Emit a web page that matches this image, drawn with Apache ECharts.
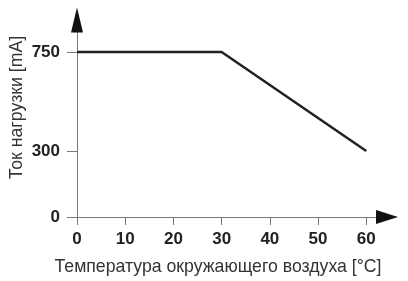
<!DOCTYPE html>
<html><head><meta charset="utf-8">
<script src="https://cdn.jsdelivr.net/npm/echarts@6/dist/echarts.min.js"></script>
<style>html,body{margin:0;padding:0;background:#fff}#c{width:408px;height:281px}</style>
</head><body><div id="c"></div>
<script>
const temps = [0, 30, 60];
const currents = [750, 750, 300];
const xTicks = [0, 10, 20, 30, 40, 50, 60];
const yTicks = [0, 300, 750];
const xName = 'Температура окружающего воздуха [°C]';
const yName = 'Ток нагрузки [mA]';

const font = 'Liberation Sans';
const chart = echarts.init(document.getElementById('c'), null, {renderer: 'canvas'});
const arrowAxis = (extra) => Object.assign({
  type: 'value', min: 0,
  axisTick: {show: false}, axisLabel: {show: false}, splitLine: {show: false}
}, extra);
chart.setOption({
  animation: false,
  grid: {left: 77, right: 21, top: 20, bottom: 64, outerBoundsMode: 'none', containLabel: false},
  xAxis: [{
    type: 'value', min: 0, max: 64.3,
    name: xName, nameLocation: 'middle', nameGap: 41, nameMoveOverlap: false,
    nameTextStyle: {fontFamily: font, fontSize: 17.7, color: '#333', padding: [0, 28, 0, 0]},
    axisLine: {lineStyle: {color: '#777', width: 1}},
    axisTick: {show: true, length: 8, lineStyle: {color: '#777'}, customValues: xTicks},
    axisLabel: {customValues: xTicks, fontFamily: font, fontWeight: 'bold', fontSize: 17, color: '#222', margin: 14},
    splitLine: {show: false}
  }, arrowAxis({max: 64.3, position: 'bottom', axisLine: {show: true, onZero: false, lineStyle: {color: '#111', width: 0.01}, symbol: ['none', 'triangle'], symbolSize: [14, 22]}})],
  yAxis: [{
    type: 'value', min: 0, max: 895,
    name: yName, nameLocation: 'middle', nameGap: 51, nameMoveOverlap: false,
    nameTextStyle: {fontFamily: font, fontSize: 17.7, color: '#333', padding: [0, 0, 0, 22]},
    axisLine: {show: true, lineStyle: {color: '#777', width: 1}},
    axisTick: {show: true, length: 10, lineStyle: {color: '#777'}, customValues: yTicks},
    axisLabel: {customValues: yTicks, fontFamily: font, fontWeight: 'bold', fontSize: 17, color: '#222', margin: 17},
    splitLine: {show: false}
  }, arrowAxis({max: 895, position: 'left', axisLine: {show: true, onZero: false, lineStyle: {color: '#111', width: 0.01}, symbol: ['none', 'triangle'], symbolSize: [12, 25]}})],
  series: [{
    type: 'line',
    data: temps.map((t, i) => [t, currents[i]]),
    symbol: 'none',
    lineStyle: {color: '#222', width: 2.5}
  }]
});
</script></body></html>
